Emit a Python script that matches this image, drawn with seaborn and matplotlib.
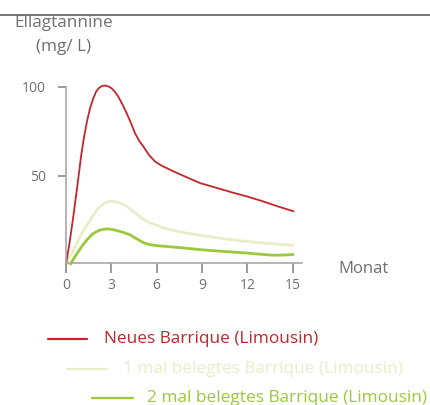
import matplotlib
matplotlib.use("Agg")
import matplotlib.pyplot as plt
import seaborn as sns
import pandas as pd
from matplotlib.lines import Line2D

# Ellagtannine im Wein je nach Barrique-Typ (mg/L, über Monate)
neu_monat = [0, 0.25, 0.5, 0.75, 1.0, 1.2, 1.41, 1.6, 1.81, 2.0, 2.2, 2.4, 2.6, 2.8, 3.03, 3.25, 3.46,
             3.75, 4.02, 4.3, 4.57, 4.85, 5.12, 5.5, 5.89, 6.3, 7.0, 8.0, 8.9, 10.0, 11.0, 12.0, 13.0, 14.0, 15.1]
neu_wert = [0, 13, 28, 44, 61, 72, 81.3, 88, 93.5, 97.3, 99.4, 100.4, 100.6, 100.2, 99, 97, 94.4,
            89.8, 85, 79.5, 73.8, 69.5, 66.3, 61.5, 57.9, 55.7, 52.8, 49, 45.7, 43, 40.5, 38.2, 35.6, 32.7, 29.8]

ein_monat = [0, 0.3, 0.6, 1.0, 1.48, 1.8, 2.14, 2.5, 2.8, 3.03, 3.4, 3.7, 4.02, 4.5, 5.01, 5.4, 5.89,
             6.5, 7.1, 8.0, 9.0, 10.0, 11.0, 12.0, 13.0, 14.0, 15.1]
ein_wert = [0, 5, 10.1, 17, 23.3, 27.8, 31.7, 34.2, 35.3, 35.5, 35, 34.2, 32.6, 29.5, 26.1, 24, 22.3,
            20.5, 19.1, 17.6, 16.3, 15, 13.9, 12.9, 12.1, 11.4, 10.7]

zwei_monat = [0.26, 0.6, 1.04, 1.4, 1.7, 2.0, 2.3, 2.69, 3.0, 3.36, 3.8, 4.24, 4.5, 4.79, 5.05, 5.34, 5.6,
              5.89, 6.5, 7.1, 8.0, 8.9, 10.0, 11.0, 12.0, 12.8, 13.7, 14.4, 15.1]
zwei_wert = [-0.3, 4.5, 10.1, 14, 16.7, 18.4, 19.5, 20, 19.8, 19.1, 18, 16.7, 15.3, 13.9, 12.6, 11.6, 11.1,
             10.7, 10.2, 9.8, 9.1, 8.3, 7.6, 7, 6.4, 5.8, 5.2, 5.3, 5.6]

x_ticks = [0, 3, 6, 9, 12, 15]
y_ticks = [50, 100]

serien = ["Neues Barrique (Limousin)", "1 mal belegtes Barrique (Limousin)", "2 mal belegtes Barrique (Limousin)"]
farben = ["#c1272d", "#e6efc8", "#9cc83c"]
breiten = [1.3, 2.0, 2.0]

df = pd.concat([
    pd.DataFrame({"Monat": neu_monat, "Wert": neu_wert, "Serie": serien[0]}),
    pd.DataFrame({"Monat": ein_monat, "Wert": ein_wert, "Serie": serien[1]}),
    pd.DataFrame({"Monat": zwei_monat, "Wert": zwei_wert, "Serie": serien[2]}),
])

sns.set_style("white")
plt.rcParams['font.family'] = ['Open Sans', 'DejaVu Sans']

grau = "#707070"
achse = "#a8a8a8"

fig = plt.figure(figsize=(4.31, 4.05), dpi=100)
ax = fig.add_axes([0.1531, 0.3514, 0.5469, 0.4434])

# hinten nach vorne zeichnen: hellgrün, grün, rot
for name, farbe, lw in zip(serien[::-1], farben[::-1], breiten[::-1]):
    sub = df[df["Serie"] == name]
    sns.lineplot(data=sub, x="Monat", y="Wert", color=farbe, lw=lw, ax=ax,
                 sort=False, estimator=None, legend=False)
for line in ax.lines:
    line.set_clip_on(False)
    line.set_solid_capstyle("butt")
    line.set_solid_joinstyle("round")

ax.set_xlim(0, 15.6)
ax.set_ylim(1, 102)
ax.set_xticks(x_ticks)
ax.set_yticks(y_ticks)
ax.set_xlabel("")
ax.set_ylabel("")
for s in ["top", "right"]:
    ax.spines[s].set_visible(False)
for s in ["left", "bottom"]:
    ax.spines[s].set_color(achse)
    ax.spines[s].set_linewidth(1.2)
ax.spines["left"].set_bounds(1, 100)
ax.tick_params(axis="y", length=5.5, width=1.2, color="#8a8a8a", pad=9,
               labelsize=10, labelcolor=grau, direction="out", left=True)
ax.tick_params(axis="x", length=7, width=1.2, color="#8a8a8a", pad=4,
               labelsize=10, labelcolor=grau, direction="out", bottom=True)

# Achsentitel
fig.text(0.033, 0.944, "Ellagtannine", fontsize=12.3, color=grau, ha="left", va="center")
fig.text(0.147, 0.885, "(mg/ L)", fontsize=12.3, color=grau, ha="center", va="center")
fig.text(0.784, 0.337, "Monat", fontsize=12, color=grau, ha="left", va="center")

# Linie oben
fig.add_artist(Line2D([0, 1], [0.963, 0.963], color="#6a6a6a", lw=1.3))

# gestaffelte Legende
leg_y = [0.163, 0.089, 0.017]
leg_x = [(0.111, 0.202, 0.241), (0.155, 0.248, 0.285), (0.213, 0.309, 0.341)]
for (x0, x1, xt), y, name, farbe, lw in zip(leg_x, leg_y, serien, farben, breiten):
    fig.add_artist(Line2D([x0, x1], [y, y], color=farbe, lw=1.6))
    fig.text(xt, y, name, fontsize=12.4, color=farbe, ha="left", va="center")

fig.savefig("out.png", dpi=100)
